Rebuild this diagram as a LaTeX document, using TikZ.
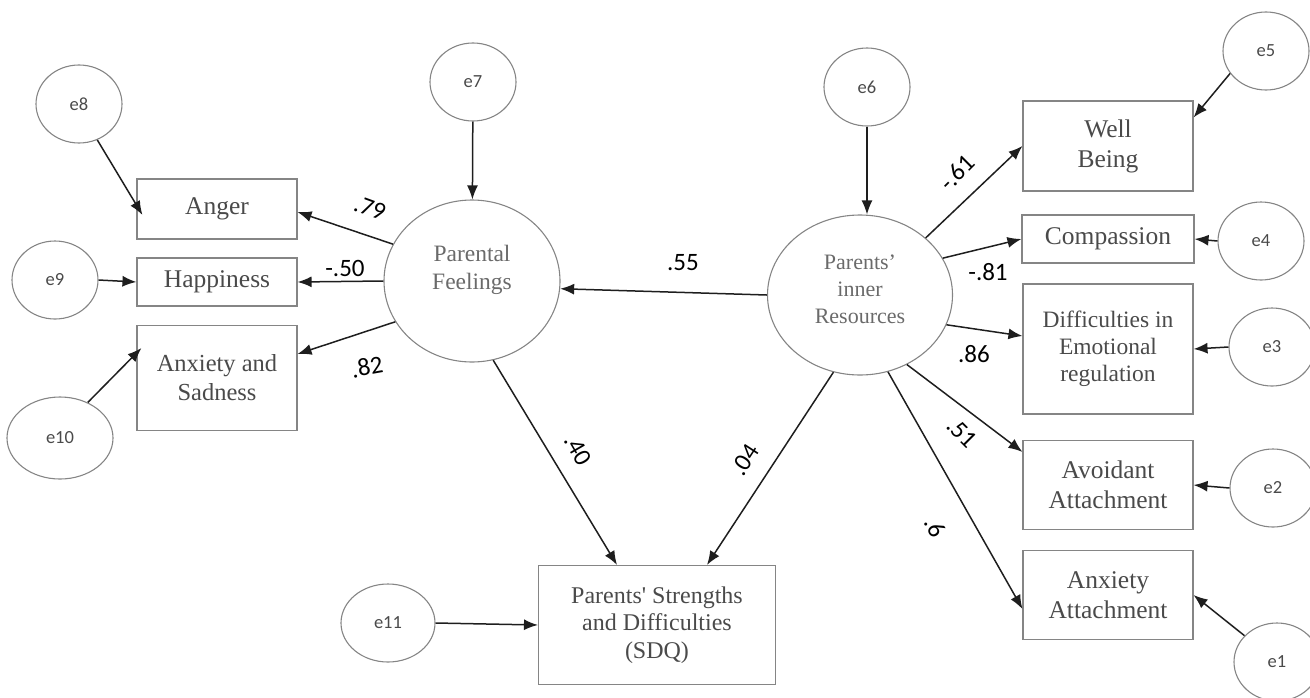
\documentclass[tikz,border=0pt]{standalone}
\usepackage{fontspec}
\setmainfont{Liberation Serif}
\newfontfamily\coeffont{Carlito}
\usepackage{tikz}
\usetikzlibrary{positioning, arrows.meta, shapes.geometric}
\definecolor{boxgray}{HTML}{858585}
\definecolor{txtgray}{HTML}{4A4A4A}
\definecolor{lattext}{HTML}{6A6A6A}
\definecolor{arrowdark}{HTML}{1E1E1E}
\tikzstyle{obsbox} = [rectangle, draw=boxgray, line width=1.1pt, text=txtgray, 
align=center, minimum width=160pt, inner sep=2pt, font=\fontsize{25.5}{30}\selectfont]
\tikzstyle{latent} = [ellipse, draw=boxgray, line width=1.1pt, text=lattext, 
align=center, inner sep=0pt, minimum width=176pt, minimum height=162pt, font=\fontsize{23.5}{28}\selectfont]
\tikzstyle{err} = [ellipse, draw=boxgray, line width=1.1pt, text=txtgray, 
inner sep=0pt, minimum width=86pt, minimum height=78pt, font=\coeffont\fontsize{18.5}{20}\selectfont]
\tikzstyle{coef} = [font=\coeffont\fontsize{25}{27}\selectfont, inner sep=0pt]
\tikzstyle{arrow} = [line width=1.5pt, draw=arrowdark, ->, >={Latex[length=14pt,width=11pt]}]

\begin{document}
\begin{tikzpicture}[x=1pt, y=-1pt, node distance=110pt]
                \useasboundingbox (0,0) rectangle (1310,697);
                % latent variables
                \node (pf) [latent, text depth=27pt] at (472,281) {Parental\\Feelings};
                \node (pir) [latent, minimum width=185pt, minimum height=160pt, text depth=12pt, font=\fontsize{22}{27}\selectfont] at (860,295) {Parents’\\inner\\Resources};
                % left indicators
                \node (anger) [obsbox, minimum height=60pt] at (217,209) {Anger};
                \node (happ) [obsbox, minimum height=48pt, below of=anger, yshift=37pt] {Happiness};
                \node (anxsad) [obsbox, minimum height=105pt, below of=happ, yshift=14pt, font=\fontsize{24.5}{29}\selectfont] {Anxiety and\\Sadness};
                % right indicators
                \node (wellb) [obsbox, minimum width=170pt, minimum height=90pt] at (1108,146) {Well\\Being};
                \node (compas) [obsbox, minimum width=172pt, minimum height=48pt, below of=wellb, yshift=17pt] {Compassion};
                \node (differ) [obsbox, minimum width=170pt, minimum height=130pt, below of=compas, font=\fontsize{23.5}{27}\selectfont] {Difficulties in\\Emotional\\regulation};
                \node (avoid) [obsbox, minimum width=170pt, minimum height=89pt, below of=differ, yshift=-26pt] {Avoidant\\Attachment};
                \node (anxatt) [obsbox, minimum width=170pt, minimum height=89pt, below of=avoid] {Anxiety\\Attachment};
                % outcome
                \node (sdq) [obsbox, minimum width=237pt, minimum height=119pt, font=\fontsize{24}{27.5}\selectfont] at (657,625) {Parents\textquotesingle{} Strengths\\and Difficulties\\(SDQ)};
                % error terms
                \node (e1) [err] at (1277,662) {e1};
                \node (e2) [err] at (1273,488) {e2};
                \node (e3) [err] at (1272,347) {e3};
                \node (e4) [err] at (1261,241) {e4};
                \node (e5) [err] at (1266,51) {e5};
                \node (e6) [err] at (867,87) {e6};
                \node (e7) [err] at (473,82) {e7};
                \node (e8) [err] at (79,104) {e8};
                \node (e9) [err] at (55,280) {e9};
                \node (e10) [err, minimum width=106pt, minimum height=82pt] at (60,438) {e10};
                \node (e11) [err, minimum width=94pt] at (388,623) {e11};
                % structural paths
                \draw [arrow] (pir.west) -- (pf.355);
                \draw [arrow] (pf.285) -- ([xshift=-40pt]sdq.north);
                \draw [arrow] (pir.251) -- ([xshift=50pt]sdq.north);
                % loadings
                \draw [arrow] (pf.155) -- ([yshift=-3pt]anger.east);
                \draw [arrow] (pf.west) -- (happ.east);
                \draw [arrow] (pf.208) -- ([yshift=24pt]anxsad.east);
                \draw [arrow] (pir.41) -- (wellb.west);
                \draw [arrow] (pir.24) -- (compas.west);
                \draw [arrow] (pir.341) -- ([yshift=13pt]differ.west);
                \draw [arrow] (pir.304) -- ([yshift=-12pt]avoid.north west);
                \draw [arrow] (pir.290) -- ([yshift=-14pt]anxatt.west);
                % errors
                \draw [arrow] (e1.141) -- (anxatt.east);
                \draw [arrow] (e2.west) -- (avoid.east);
                \draw [arrow] (e3.west) -- (differ.east);
                \draw [arrow] (e4.west) -- (compas.east);
                \draw [arrow] (e5.212) -- ([yshift=-17pt]wellb.north east);
                \draw [arrow] (e6.south) -- (e6.south |- pir.north);
                \draw [arrow] (e7) -- (pf);
                \draw [arrow] (e8.297) -- ([shift={(6pt,-6pt)}]anger.west);
                \draw [arrow] (e9.east) -- (happ.west);
                \draw [arrow] (e10.52) -- ([shift={(5pt,30pt)}]anxsad.west);
                \draw [arrow] (e11.east) -- (sdq.west);
                % coefficients
                \node (l79) [coef, rotate=-20] at (370,208) {.79};
                \node (l50) [coef] at (345,268) {-.50};
                \node (l82) [coef, rotate=10] at (367,367) {.82};
                \node (l55) [coef] at (683,263) {.55};
                \node (l40) [coef, rotate=-60] at (578,450) {.40};
                \node (l04) [coef, rotate=57] at (745,460) {.04};
                \node (l61) [coef, rotate=45] at (957,173) {-.61};
                \node (l81) [coef] at (988,272) {-.81};
                \node (l86) [coef] at (974,354) {.86};
                \node (l51) [coef, rotate=-45] at (962,433) {.51};
                \node (l6) [coef, rotate=-60] at (935,527) {.6};
\end{tikzpicture}
\end{document}
